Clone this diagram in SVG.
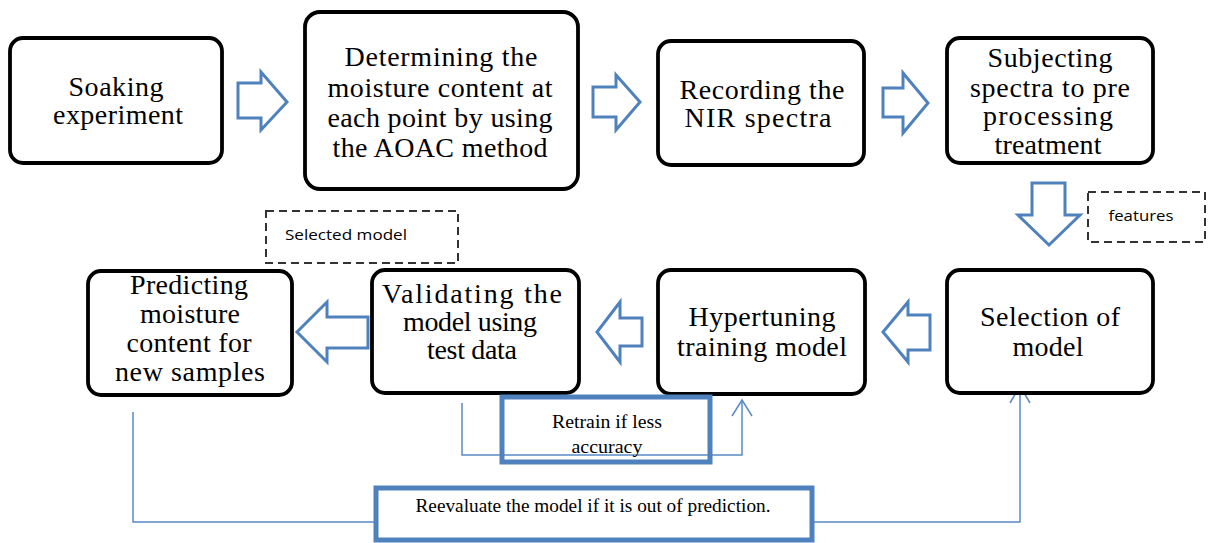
<svg xmlns="http://www.w3.org/2000/svg" width="1209" height="543" viewBox="0 0 1209 543">
  <style>
    .box { fill: #ffffff; stroke: #000000; stroke-width: 3.8; }
    .lbl { font-family: "Liberation Serif", "Times New Roman", serif; font-size: 28px; fill: #000000; text-anchor: middle; }
    .small { font-family: "Liberation Serif", "Times New Roman", serif; font-size: 18px; fill: #000000; text-anchor: middle; }
    .note { font-family: "Open Sans", "Liberation Sans", sans-serif; font-size: 15px; fill: #000000; text-anchor: middle; }
    .dash { fill: none; stroke: #333333; stroke-width: 2; stroke-dasharray: 8 5; }
    .block { fill: #ffffff; stroke: #4f81bd; stroke-width: 3; stroke-linejoin: miter; }
    .thin { fill: none; stroke: #5b8ac6; stroke-width: 1.5; }
    .frame { fill: none; stroke: #4f81bd; stroke-width: 5; }
  </style>
  <rect width="1209" height="543" fill="#ffffff"/>

  <!-- block arrows between steps -->
  <g id="connectors">
    <path class="block" d="M238,83 L261,83 L261,72 L287,102 L261,130 L261,118 L238,118 Z"/>
    <path class="block" d="M593,87 L616,87 L616,75 L640,102 L616,130 L616,117 L593,117 Z"/>
    <path class="block" d="M883,88 L903,88 L903,73 L928,103 L903,133 L903,117 L883,117 Z"/>
    <path class="block" d="M1032,183 L1065,183 L1065,215 L1080,215 L1049,245 L1018,215 L1032,215 Z"/>
    <path class="block" d="M930,315 L908,315 L908,302 L883,332 L908,362 L908,350 L930,350 Z"/>
    <path class="block" d="M642,318 L620,318 L620,302 L597,332 L620,362 L620,346 L642,346 Z"/>
    <path class="block" d="M368,317 L327,317 L327,302 L297,332 L327,362 L327,348 L368,348 Z"/>
    <!-- retrain loop -->
    <polyline class="thin" points="462,403 462,455 742,455 742,401"/>
    <polyline class="thin" points="732,416 742,400 752,416"/>
    <!-- re-evaluation loop -->
    <polyline class="thin" points="133,412 133,522 376,522"/>
    <polyline class="thin" points="812,522 1020,522 1020,387"/>
    <polyline class="thin" points="1010,403 1020,386 1030,403"/>
  </g>

  <g id="soaking">
    <rect class="box" x="10" y="38" width="212" height="125" rx="13"/>
    <text class="lbl" x="116" y="96" textLength="95" lengthAdjust="spacing">Soaking</text>
    <text class="lbl" x="118" y="124" textLength="130" lengthAdjust="spacing">experiment</text>
  </g>

  <g id="moisture-aoac">
    <rect class="box" x="305" y="12" width="273" height="177" rx="15"/>
    <text class="lbl" x="441" y="66" textLength="193" lengthAdjust="spacing">Determining the</text>
    <text class="lbl" x="440" y="97" textLength="225" lengthAdjust="spacing">moisture content at</text>
    <text class="lbl" x="440" y="127" textLength="225" lengthAdjust="spacing">each point by using</text>
    <text class="lbl" x="440" y="157" textLength="215" lengthAdjust="spacing">the AOAC method</text>
  </g>

  <g id="nir">
    <rect class="box" x="658" y="41" width="206" height="124" rx="13"/>
    <text class="lbl" x="762" y="99" textLength="165" lengthAdjust="spacing">Recording the</text>
    <text class="lbl" x="758" y="127" textLength="147" lengthAdjust="spacing">NIR spectra</text>
  </g>

  <g id="preprocessing">
    <rect class="box" x="947" y="38" width="206" height="125" rx="13"/>
    <text class="lbl" x="1050" y="67" textLength="125" lengthAdjust="spacing">Subjecting</text>
    <text class="lbl" x="1050" y="97" textLength="160" lengthAdjust="spacing">spectra to pre</text>
    <text class="lbl" x="1048" y="125" textLength="130" lengthAdjust="spacing">processing</text>
    <text class="lbl" x="1048" y="154" textLength="107" lengthAdjust="spacing">treatment</text>
  </g>

  <g id="features">
    <rect class="dash" x="1088" y="192" width="117" height="50"/>
    <text class="note" x="1141" y="221" textLength="65" lengthAdjust="spacingAndGlyphs">features</text>
  </g>

  <g id="selected-model">
    <rect class="dash" x="266" y="211" width="192" height="52"/>
    <text class="note" x="346" y="240" textLength="122" lengthAdjust="spacingAndGlyphs">Selected model</text>
  </g>

  <g id="predicting">
    <rect class="box" x="88" y="271" width="204" height="124" rx="13"/>
    <text class="lbl" x="189" y="294" textLength="118" lengthAdjust="spacing">Predicting</text>
    <text class="lbl" x="190" y="323" textLength="100" lengthAdjust="spacing">moisture</text>
    <text class="lbl" x="189" y="352" textLength="125" lengthAdjust="spacing">content for</text>
    <text class="lbl" x="190" y="381" textLength="150" lengthAdjust="spacing">new samples</text>
  </g>

  <g id="validating">
    <rect class="box" x="372" y="270" width="207" height="123" rx="13"/>
    <text class="lbl" x="472" y="303" textLength="180" lengthAdjust="spacing">Validating the</text>
    <text class="lbl" x="470" y="331" textLength="134" lengthAdjust="spacing">model using</text>
    <text class="lbl" x="472" y="359" textLength="90" lengthAdjust="spacing">test data</text>
  </g>

  <g id="hypertuning">
    <rect class="box" x="658" y="270" width="207" height="124" rx="13"/>
    <text class="lbl" x="762" y="326" textLength="147" lengthAdjust="spacing">Hypertuning</text>
    <text class="lbl" x="762" y="356" textLength="170" lengthAdjust="spacing">training model</text>
  </g>

  <g id="selection">
    <rect class="box" x="947" y="270" width="206" height="123" rx="13"/>
    <text class="lbl" x="1050" y="326" textLength="140" lengthAdjust="spacing">Selection of</text>
    <text class="lbl" x="1048" y="356" textLength="71" lengthAdjust="spacing">model</text>
  </g>

  <g id="retrain">
    <rect class="frame" x="502" y="397" width="208" height="65"/>
    <text class="small" x="607" y="428" textLength="110" lengthAdjust="spacingAndGlyphs">Retrain if less</text>
    <text class="small" x="607" y="453" textLength="71" lengthAdjust="spacingAndGlyphs">accuracy</text>
  </g>

  <g id="reevaluate">
    <rect class="frame" x="376" y="488" width="436" height="52" style="fill:#ffffff"/>
    <text class="small" x="593" y="512" textLength="355" lengthAdjust="spacingAndGlyphs">Reevaluate the model if it is out of prediction.</text>
  </g>
</svg>
